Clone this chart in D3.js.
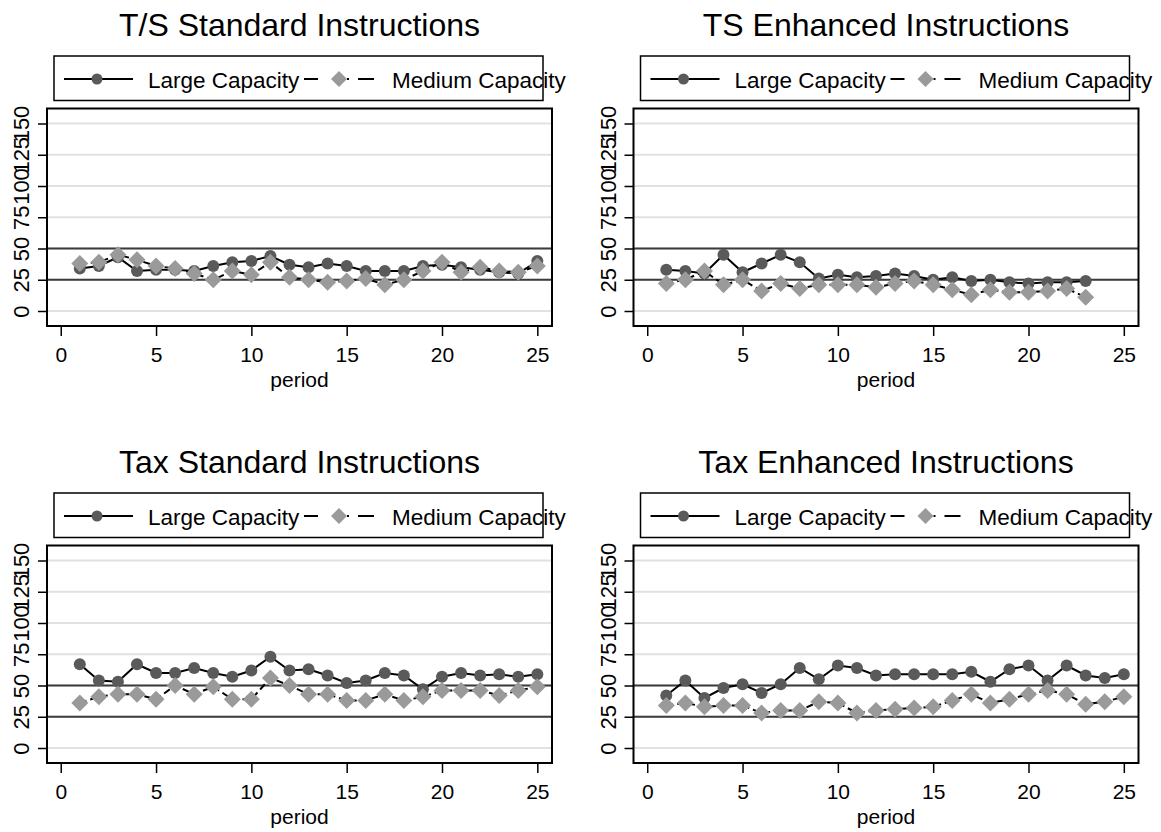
<!DOCTYPE html>
<html>
<head>
<meta charset="utf-8">
<script src="https://cdn.jsdelivr.net/npm/d3@7"></script>
<style>
  html, body { margin: 0; padding: 0; background: #fff; }
  svg { display: block; font-family: "Liberation Sans", Arial, sans-serif; }
</style>
</head>
<body>
<svg id="chart" width="1161" height="832"></svg>
<script>
// ---------- data ----------
const periods = [1,2,3,4,5,6,7,8,9,10,11,12,13,14,15,16,17,18,19,20,21,22,23,24,25];
const xTicks = [0, 5, 10, 15, 20, 25];
const yTicks = [0, 25, 50, 75, 100, 125, 150];
const refLines = [25, 50];
const seriesNames = ["Large Capacity", "Medium Capacity"];
const panelTitles = ["T/S Standard Instructions", "TS Enhanced Instructions",
                     "Tax Standard Instructions", "Tax Enhanced Instructions"];
const xLabel = "period";

const tsStdLarge = [34, 36, 43, 32, 33, 33, 32, 36, 39, 40, 44, 37, 35, 38, 36, 32, 32, 32, 36, 37, 35, 33, 31, 30, 40];
const tsStdMed   = [38, 39, 45, 41, 36, 34, 30, 25, 32, 29, 39, 27, 25, 23, 24, 26, 21, 25, 32, 39, 31, 35, 32, 31, 36];

const tsEnhLarge = [33, 32, 30, 45, 31, 38, 45, 39, 26, 29, 27, 28, 30, 28, 25, 27, 24, 25, 23, 22, 23, 23, 24];
const tsEnhMed   = [22, 25, 32, 21, 25, 16, 22, 18, 21, 21, 21, 19, 22, 24, 21, 17, 13, 17, 15, 15, 16, 18, 11];

const taxStdLarge = [67, 54, 53, 67, 60, 60, 64, 60, 57, 62, 73, 62, 63, 58, 52, 54, 60, 58, 47, 57, 60, 58, 59, 57, 59];
const taxStdMed   = [36, 41, 43, 43, 39, 50, 43, 49, 39, 39, 56, 50, 43, 43, 38, 38, 43, 38, 41, 46, 46, 46, 42, 46, 49];

const taxEnhLarge = [42, 54, 40, 48, 51, 44, 51, 64, 55, 66, 64, 58, 59, 59, 59, 59, 61, 53, 63, 66, 54, 66, 58, 56, 59];
const taxEnhMed   = [34, 36, 33, 34, 34, 28, 30, 30, 37, 36, 28, 30, 31, 32, 33, 38, 43, 36, 39, 43, 46, 43, 35, 37, 41];

const panelData = [
  [tsStdLarge, tsStdMed],
  [tsEnhLarge, tsEnhMed],
  [taxStdLarge, taxStdMed],
  [taxEnhLarge, taxEnhMed]
];

// ---------- layout / style ----------
const panelOffsets = [[0, 0], [586.5, 0], [0, 437], [586.5, 437]];
const frame = { left: 47, right: 552, top: 108.5, bottom: 326 };
const xDomain = [-0.72, 25.77];
const yDomain = [-12, 162];
const FONT = '"Liberation Sans", Arial, sans-serif';
const largeColor = "#5a5a5a";
const medColor = "#9a9a9a";

const svg = d3.select("#chart");

const x = d3.scaleLinear().domain(xDomain).range([frame.left, frame.right]);
const y = d3.scaleLinear().domain(yDomain).range([frame.bottom, frame.top]);

function diamondPath(cx, cy, r) {
  return `M${cx},${cy - r}L${cx + r},${cy}L${cx},${cy + r}L${cx - r},${cy}Z`;
}

panelTitles.forEach((title, i) => {
  const [ox, oy] = panelOffsets[i];
  const g = svg.append("g").attr("transform", `translate(${ox},${oy})`);
  const [large, med] = panelData[i];
  const cx = (frame.left + frame.right) / 2;

  // title
  g.append("text").attr("x", cx).attr("y", 36)
    .attr("text-anchor", "middle").attr("font-size", 32).attr("fill", "#000")
    .text(title);

  // legend
  g.append("rect").attr("x", 54).attr("y", 56).attr("width", 489).attr("height", 44.5)
    .attr("fill", "none").attr("stroke", "#000").attr("stroke-width", 1.5);
  const ly = 79;
  g.append("line").attr("x1", 64).attr("x2", 133).attr("y1", ly).attr("y2", ly)
    .attr("stroke", "#000").attr("stroke-width", 2);
  g.append("circle").attr("cx", 97).attr("cy", ly).attr("r", 5.5).attr("fill", largeColor);
  g.append("text").attr("x", 148).attr("y", 87.5).attr("font-size", 22.5).text(seriesNames[0]);
  g.append("line").attr("x1", 304).attr("x2", 374).attr("y1", ly).attr("y2", ly)
    .attr("stroke", "#000").attr("stroke-width", 2)
    .attr("stroke-dasharray", "14,29,2,9,16,100");
  g.append("path").attr("d", diamondPath(339, ly, 8)).attr("fill", medColor);
  g.append("text").attr("x", 392).attr("y", 87.5).attr("font-size", 22.5).text(seriesNames[1]);

  // gridlines
  g.selectAll(".grid").data(yTicks).enter().append("line")
    .attr("x1", frame.left).attr("x2", frame.right)
    .attr("y1", d => y(d)).attr("y2", d => y(d))
    .attr("stroke", "#e1e1e1").attr("stroke-width", 2);

  // reference lines
  g.selectAll(".ref").data(refLines).enter().append("line")
    .attr("x1", frame.left).attr("x2", frame.right)
    .attr("y1", d => y(d)).attr("y2", d => y(d))
    .attr("stroke", "#3c3c3c").attr("stroke-width", 2);

  // series
  const pts = (vals) => vals.map((v, k) => [periods[k], v]);
  const line = d3.line().x(d => x(d[0])).y(d => y(d[1]));

  g.append("path").datum(pts(large)).attr("d", line)
    .attr("fill", "none").attr("stroke", "#000").attr("stroke-width", 2);
  g.selectAll(".lg").data(pts(large)).enter().append("circle")
    .attr("cx", d => x(d[0])).attr("cy", d => y(d[1])).attr("r", 6)
    .attr("fill", largeColor);

  g.append("path").datum(pts(med)).attr("d", line)
    .attr("fill", "none").attr("stroke", "#000").attr("stroke-width", 2)
    .attr("stroke-dasharray", "7,4");
  g.selectAll(".md").data(pts(med)).enter().append("path")
    .attr("d", d => diamondPath(x(d[0]), y(d[1]), 8.5))
    .attr("fill", medColor);

  // frame
  g.append("rect").attr("x", frame.left).attr("y", frame.top)
    .attr("width", frame.right - frame.left).attr("height", frame.bottom - frame.top)
    .attr("fill", "none").attr("stroke", "#000").attr("stroke-width", 2);

  // x axis
  const xAxis = g.append("g").attr("transform", `translate(0,${frame.bottom})`)
    .call(d3.axisBottom(x).tickValues(xTicks).tickSize(10).tickPadding(11).tickFormat(d3.format("d")));
  xAxis.select(".domain").remove();
  xAxis.selectAll("line").attr("stroke", "#000").attr("stroke-width", 1.5);
  xAxis.selectAll("text").attr("font-size", 21).attr("font-family", FONT).attr("fill", "#000");

  // y axis
  const yAxis = g.append("g").attr("transform", `translate(${frame.left},0)`)
    .call(d3.axisLeft(y).tickValues(yTicks).tickSize(9).tickFormat(d3.format("d")));
  yAxis.select(".domain").remove();
  yAxis.selectAll("line").attr("stroke", "#000").attr("stroke-width", 1.5);
  yAxis.selectAll("text")
    .attr("x", null).attr("dy", null)
    .attr("text-anchor", "middle")
    .attr("transform", "translate(-18,0) rotate(-90)")
    .attr("font-size", 22).attr("font-family", FONT).attr("fill", "#000");

  // x label
  g.append("text").attr("x", cx).attr("y", 387)
    .attr("text-anchor", "middle").attr("font-size", 21).text(xLabel);
});
</script>
</body>
</html>
